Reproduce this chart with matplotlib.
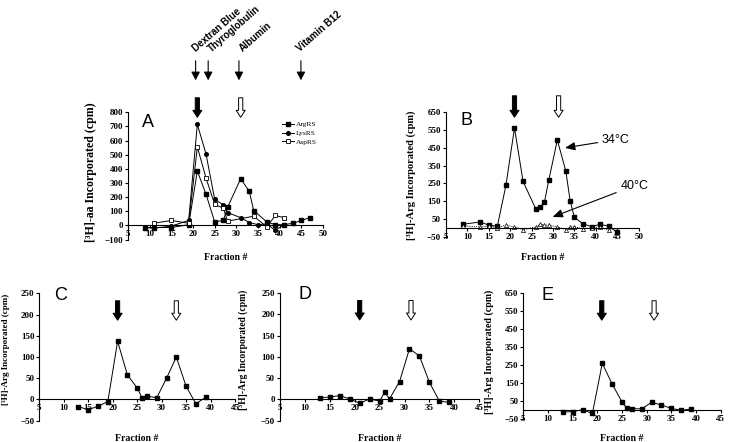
import numpy as np
import matplotlib.pyplot as plt
from matplotlib.patches import FancyArrowPatch
from matplotlib.transforms import blended_transform_factory

plt.rcParams['font.family'] = ['Liberation Serif', 'DejaVu Serif']

# ---- data ----
# Panel A
a_arg_x = [9, 11, 15, 19, 21, 23, 25, 27, 28, 31, 33, 34, 37, 39, 41, 43, 45, 47]
a_arg_y = [-15, -15, -15, 5, 385, 220, 25, 35, 130, 330, 240, 105, 25, 5, 5, 15, 35, 55]
a_lys_x = [9, 11, 15, 19, 21, 23, 25, 27, 28, 31, 33, 35, 37, 39, 41]
a_lys_y = [-15, -20, -5, 35, 715, 505, 185, 145, 90, 55, 20, 5, 10, -35, 5]
a_asp_x = [11, 15, 19, 21, 23, 25, 27, 28, 34, 37, 39, 41]
a_asp_y = [15, 35, 15, 555, 335, 150, 120, 30, 65, -10, 70, 55]
a_labels = ['ArgRS', 'LysRS', 'AspRS']

# Panel B
b_34_x = [9, 13, 15, 17, 19, 21, 23, 26, 27, 28, 29, 31, 33, 34, 35, 37, 39, 41, 43, 45]
b_34_y = [20, 33, 15, 9, 239, 562, 261, 105, 117, 146, 267, 494, 318, 150, 59, 22, 7, 20, 9, -26]
b_40_x = [9, 13, 15, 17, 19, 21, 23, 26, 27, 28, 29, 31, 33, 34, 35, 37, 39, 41, 43]
b_40_y = [10, 5, 10, 0, 15, 5, -10, 5, 20, 15, 15, 5, -10, 5, 5, -5, 0, 5, -15]

# Panel C
c_x = [13, 15, 17, 19, 21, 23, 25, 26, 27, 29, 31, 33, 35, 37, 39]
c_y = [-17, -24, -16, -5, 137, 58, 27, 4, 8, 4, 50, 100, 31, -10, 5]

# Panel D
d_x = [13, 15, 17, 19, 21, 23, 25, 26, 27, 29, 31, 33, 35, 37, 39]
d_y = [4, 5.5, 9, 1, -9, 1, -4, 16.5, 1.5, 42, 119, 102, 40, -4, -7]

# Panel E
e_x = [13, 15, 17, 19, 21, 23, 25, 26, 27, 29, 31, 33, 35, 37, 39]
e_y = [-11, -9, 2, -19, 260, 145, 45, 9, 7, 7, 43, 28, 9, -2, 6]

# marker proteins (panel A, top)
std_names = ['Dextran Blue', 'Thyroglobulin', 'Albumin', 'Vitamin B12']
std_x = [20.6, 23.5, 30.6, 44.9]
std_text_x = [20.9, 24.6, 31.8, 44.9]

fig = plt.figure(figsize=(7.31, 4.42), dpi=100)

TICK_FS = 6.5


def style_axes(ax, xmax, ymin, ymax, ystep, ylabel, ylab_fs, ylab_xy, xlab_y):
    ax.set_xlim(5, xmax)
    ax.set_ylim(ymin, ymax)
    ax.spines['top'].set_visible(False)
    ax.spines['right'].set_visible(False)
    ax.spines['bottom'].set_position(('data', 0))
    ax.spines['left'].set_linewidth(0.8)
    ax.spines['bottom'].set_linewidth(0.8)
    ax.set_xticks(np.arange(5, xmax + 1, 5))
    ax.set_yticks(np.arange(ymin, ymax + 1, ystep))
    ax.tick_params(axis='both', direction='out', length=2, width=0.8,
                   labelsize=TICK_FS, pad=1.5)
    for lab in ax.get_xticklabels() + ax.get_yticklabels():
        lab.set_fontweight('bold')
    ax.set_ylabel(ylabel, fontsize=ylab_fs, fontweight='bold')
    ax.yaxis.set_label_coords(*ylab_xy)
    ax.set_xlabel('Fraction #', fontsize=7, fontweight='bold')
    ax.xaxis.set_label_coords(0.5, xlab_y)


def block_arrow(ax, x, y0, y1, filled):
    tr = blended_transform_factory(ax.transData, ax.transAxes)
    style = 'simple,head_length=5,head_width=6.5,tail_width=3'
    arr = FancyArrowPatch((x, y0), (x, y1), transform=tr, arrowstyle=style,
                          mutation_scale=1, clip_on=False,
                          fc='black' if filled else 'white', ec='black', lw=0.7)
    ax.add_patch(arr)


def panel_letter(ax, s, x, y):
    ax.text(x, y, s, transform=ax.transAxes, ha='center', va='center',
            fontsize=13, family='Liberation Sans')


line_kw = dict(color='black', lw=0.7, markersize=2.6)

# ---- Panel A ----
axA = fig.add_axes([0.1751, 0.4581, 0.2668, 0.2878])
axA.plot(a_arg_x, a_arg_y, marker='s', mfc='black', mec='black', label=a_labels[0], **line_kw)
axA.plot(a_lys_x, a_lys_y, marker='o', mfc='black', mec='black', label=a_labels[1], **line_kw)
axA.plot(a_asp_x, a_asp_y, marker='s', mfc='white', mec='black', mew=0.6, label=a_labels[2], **line_kw)
style_axes(axA, 50, -100, 800, 100, '[³H]-aa Incorporated (cpm)', 8.6, (-0.16, 0.527), -0.106)
axA.legend(loc='upper left', bbox_to_anchor=(0.79, 0.93), frameon=False,
           fontsize=5.3, handlelength=1.6, handletextpad=0.3, labelspacing=0.35,
           borderpad=0, borderaxespad=0)
panel_letter(axA, 'A', 0.103, 0.916)
block_arrow(axA, 21, 1.136, 0.939, True)
block_arrow(axA, 31, 1.136, 0.939, False)
trA = blended_transform_factory(axA.transData, axA.transAxes)
for name, sx, tx in zip(std_names, std_x, std_text_x):
    axA.add_patch(FancyArrowPatch((sx, 1.427), (sx, 1.23), transform=trA,
                                  arrowstyle='-|>,head_length=5,head_width=2.6',
                                  mutation_scale=1, color='black', lw=0.8, clip_on=False))
    axA.text(tx, 1.46, name, transform=trA, rotation=41, rotation_mode='anchor',
             ha='left', va='bottom', fontsize=7, fontweight='bold', family='Liberation Sans')

# ---- Panel B ----
axB = fig.add_axes([0.6101, 0.4645, 0.2636, 0.2814])
axB.plot(b_34_x, b_34_y, marker='s', mfc='black', mec='black', **line_kw)
axB.plot(b_40_x, b_40_y, marker='^', mfc='white', mec='black', mew=0.5,
         linestyle=(0, (1, 1.2)), color='black', lw=0.7, markersize=3)
style_axes(axB, 50, -50, 650, 100, '[³H]-Arg Incorporated (cpm)', 7.6, (-0.156, 0.49), -0.129)
panel_letter(axB, 'B', 0.107, 0.938)
block_arrow(axB, 21, 1.155, 0.938, True)
block_arrow(axB, 31.3, 1.155, 0.938, False)
ann_kw = dict(arrowstyle='-|>,head_length=6,head_width=2.5', color='black', lw=0.8,
              shrinkA=1, shrinkB=0, mutation_scale=1)
axB.annotate('34°C', xy=(32.8, 450), xytext=(41.4, 496), ha='left', va='center',
             fontsize=9, family='Liberation Sans', arrowprops=ann_kw, annotation_clip=False)
axB.annotate('40°C', xy=(29.9, 61), xytext=(45.7, 237), ha='left', va='center',
             fontsize=9, family='Liberation Sans', arrowprops=ann_kw, annotation_clip=False)

# ---- Panel C ----
axC = fig.add_axes([0.0538, 0.0482, 0.2677, 0.2882])
axC.plot(c_x, c_y, marker='s', mfc='black', mec='black', **line_kw)
style_axes(axC, 45, -50, 250, 50, '[³H]-Arg Incorporated (cpm)', 6.5, (-0.15, 0.56), -0.104)
panel_letter(axC, 'C', 0.106, 0.985)
block_arrow(axC, 21, 0.963, 0.767, True)
block_arrow(axC, 33, 0.963, 0.767, False)

# ---- Panel D ----
axD = fig.add_axes([0.383, 0.0482, 0.2726, 0.2889])
axD.plot(d_x, d_y, marker='s', mfc='black', mec='black', **line_kw)
style_axes(axD, 45, -50, 250, 50, '[³H]-Arg Incorporated (cpm)', 6.9, (-0.16, 0.555), -0.104)
panel_letter(axD, 'D', 0.125, 0.985)
block_arrow(axD, 21, 0.963, 0.767, True)
block_arrow(axD, 31.3, 0.963, 0.767, False)

# ---- Panel E ----
axE = fig.add_axes([0.7159, 0.052, 0.270, 0.2844])
axE.plot(e_x, e_y, marker='s', mfc='black', mec='black', **line_kw)
style_axes(axE, 45, -50, 650, 100, '[³H]-Arg Incorporated (cpm)', 7.2, (-0.148, 0.537), -0.119)
panel_letter(axE, 'E', 0.125, 0.985)
block_arrow(axE, 20.9, 0.963, 0.764, True)
block_arrow(axE, 31.5, 0.963, 0.764, False)

fig.savefig('out.png', dpi=100)
